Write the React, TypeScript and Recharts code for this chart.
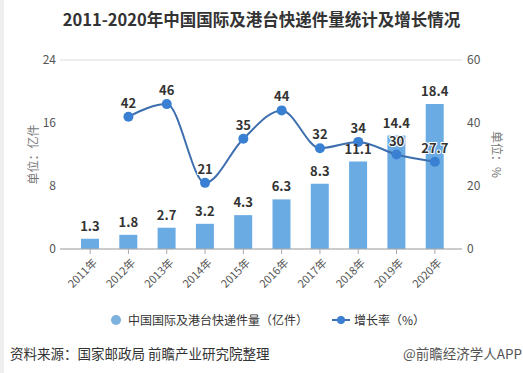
import React from 'react';
import {
  ComposedChart,
  Bar,
  Line,
  XAxis,
  YAxis,
  CartesianGrid,
  LabelList,
} from 'recharts';

const years = ['2011年', '2012年', '2013年', '2014年', '2015年', '2016年', '2017年', '2018年', '2019年', '2020年'];
const volume = [1.3, 1.8, 2.7, 3.2, 4.3, 6.3, 8.3, 11.1, 14.4, 18.4];
const growth = [null, 42, 46, 21, 35, 44, 32, 34, 30, 27.7];
const leftTicks = [0, 8, 16, 24];
const rightTicks = [0, 20, 40, 60];

const data = years.map((year, i) => ({ year, volume: volume[i], growth: growth[i] }));

const FONT = '"Microsoft YaHei", "Noto Sans CJK SC", sans-serif';
const BAR_COLOR = '#6aabe4';
const LINE_COLOR = '#3d6fae';
const DOT_COLOR = '#3a80d2';

const XTick = (props: any) => {
  const { x, y, payload } = props;
  return (
    <text
      x={x + 4}
      y={y + 4}
      transform={`rotate(-45, ${x + 4}, ${y + 4})`}
      textAnchor="end"
      dominantBaseline="central"
      fontSize={11}
      fill="#555"
      fontFamily={FONT}
    >
      {payload.value}
    </text>
  );
};

export default function App() {
  return (
    <div
      style={{
        position: 'absolute',
        left: 0,
        top: 0,
        width: 523,
        height: 373,
        background: '#fff',
        fontFamily: FONT,
        overflow: 'hidden',
      }}
    >
      <div style={{ position: 'absolute', left: 0, top: 0, width: 4, height: 373, background: '#eee' }} />
      <div
        style={{
          position: 'absolute',
          top: 7,
          width: 523,
          textAlign: 'center',
          fontSize: 16.5,
          fontWeight: 700,
          color: '#333',
        }}
      >
        2011-2020年中国国际及港台快递件量统计及增长情况
      </div>

      <ComposedChart
        width={523}
        height={373}
        data={data}
        margin={{ top: 60, right: 31, bottom: 74, left: 30 }}
      >
        <CartesianGrid vertical={false} stroke="#dcdcdc" />
        <XAxis
          dataKey="year"
          height={50}
          padding={{ left: 11, right: 8 }}
          axisLine={{ stroke: '#aaa' }}
          tickLine={{ stroke: '#aaa' }}
          tickSize={5}
          tick={<XTick />}
          interval={0}
        />
        <YAxis
          yAxisId="left"
          width={30}
          domain={[0, 24]}
          ticks={leftTicks}
          axisLine={false}
          tickLine={false}
          tickSize={0}
          tickMargin={4}
          tick={{ fontSize: 12, fill: '#555', fontFamily: FONT }}
          label={{
            value: '单位：亿件',
            angle: -90,
            position: 'insideLeft',
            offset: 4,
            style: { fontSize: 12, fill: '#777', fontFamily: FONT, textAnchor: 'middle' },
          }}
        />
        <YAxis
          yAxisId="right"
          orientation="right"
          width={30}
          domain={[0, 60]}
          ticks={rightTicks}
          axisLine={false}
          tickLine={false}
          tickSize={0}
          tickMargin={5}
          tick={{ fontSize: 12, fill: '#555', fontFamily: FONT }}
          label={{
            value: '单位：%',
            angle: 90,
            position: 'insideRight',
            offset: -4,
            style: { fontSize: 12, fill: '#777', fontFamily: FONT, textAnchor: 'middle' },
          }}
        />
        <Bar yAxisId="left" dataKey="volume" fill={BAR_COLOR} barSize={18} isAnimationActive={false}>
          <LabelList
            dataKey="volume"
            position="top"
            offset={8}
            style={{ fontSize: 13, fontWeight: 700, fill: '#333', fontFamily: FONT }}
          />
        </Bar>
        <Line
          yAxisId="right"
          dataKey="growth"
          type="monotone"
          stroke={LINE_COLOR}
          strokeWidth={2}
          dot={{ r: 5, fill: DOT_COLOR, stroke: DOT_COLOR, strokeWidth: 0 }}
          activeDot={false}
          connectNulls={false}
          isAnimationActive={false}
        >
          <LabelList
            dataKey="growth"
            position="top"
            offset={9}
            style={{
              fontSize: 13,
              fontWeight: 700,
              fill: '#333',
              fontFamily: FONT,
              stroke: '#ffffff',
              strokeWidth: 2,
              paintOrder: 'stroke',
            }}
          />
        </Line>
      </ComposedChart>

      <div
        style={{
          position: 'absolute',
          top: 311,
          left: 6,
          width: 523,
          display: 'flex',
          justifyContent: 'center',
          alignItems: 'center',
          fontSize: 12,
          color: '#333',
        }}
      >
        <svg width={12} height={12} style={{ marginRight: 6 }}>
          <circle cx={6} cy={6} r={5} fill="#7db2df" />
        </svg>
        <span>中国国际及港台快递件量（亿件）</span>
        <svg width={18} height={12} style={{ marginLeft: 24, marginRight: 4 }}>
          <line x1={0} y1={6} x2={18} y2={6} stroke={LINE_COLOR} strokeWidth={2} />
          <circle cx={9} cy={6} r={4} fill={DOT_COLOR} />
        </svg>
        <span>增长率（%）</span>
      </div>

      <div style={{ position: 'absolute', left: 10, top: 343, fontSize: 13.5, color: '#333' }}>
        资料来源：国家邮政局 前瞻产业研究院整理
      </div>
      <div style={{ position: 'absolute', right: 1, top: 343, fontSize: 13.5, color: '#555' }}>
        @前瞻经济学人APP
      </div>
    </div>
  );
}
